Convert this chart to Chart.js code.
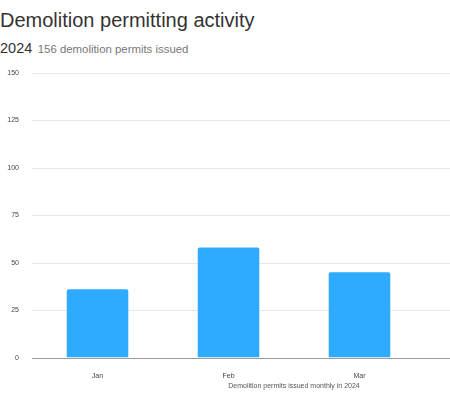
<!DOCTYPE html>
<html>
<head>
<meta charset="utf-8">
<script src="https://cdn.jsdelivr.net/npm/chart.js@4.4.1/dist/chart.umd.min.js"></script>
<style>
  html, body { margin: 0; padding: 0; background: #fff; }
  #wrap { position: relative; width: 450px; height: 400px; overflow: hidden; font-family: "Liberation Sans", Arial, sans-serif; }
  #title { position: absolute; left: 0; top: 10px; font-size: 20px; line-height: 20px; color: #333; white-space: nowrap; }
  #sub { position: absolute; left: 0; top: 40px; line-height: 16px; white-space: nowrap; }
  #sub .year { font-size: 14.5px; color: #333; }
  #sub .note { font-size: 11.4px; color: #777; margin-left: 1px; }
  canvas { position: absolute; left: 0; top: 0; }
</style>
</head>
<body>
<div id="wrap">
  <div id="title">Demolition permitting activity</div>
  <div id="sub"><span class="year">2024</span> <span class="note">156 demolition permits issued</span></div>
  <canvas id="myChart" width="450" height="400"></canvas>
</div>
<script>
const months = ["Jan", "Feb", "Mar"];
const permits = [36, 58, 45];
const yTicks = [0, 25, 50, 75, 100, 125, 150];
const xCaption = "Demolition permits issued monthly in 2024";

// horizontal lines run right out to the edge of the canvas, like the original
const gridToEdge = {
  id: "gridToEdge",
  beforeDatasetsDraw(chart) {
    const { ctx, chartArea, scales } = chart;
    ctx.save();
    scales.y.ticks.forEach((t, i) => {
      const y = Math.round(scales.y.getPixelForTick(i)) + 0.5;
      ctx.strokeStyle = t.value === 0 ? "#9a9a9a" : "#e8e8e8";
      ctx.lineWidth = 1;
      ctx.beginPath();
      ctx.moveTo(chartArea.left, y);
      ctx.lineTo(chart.width, y);
      ctx.stroke();
    });
    ctx.restore();
  },
  // caption under the axis, sits between Feb and Mar in the original
  afterDraw(chart) {
    const { ctx, chartArea, scales } = chart;
    ctx.save();
    ctx.font = "7px 'Liberation Sans', Arial, sans-serif";
    ctx.fillStyle = "#555";
    ctx.textAlign = "center";
    ctx.textBaseline = "middle";
    ctx.fillText(xCaption, scales.x.getPixelForValue(1.5), chartArea.bottom + 28.5);
    ctx.restore();
  }
};

const ctx = document.getElementById("myChart");
new Chart(ctx, {
  type: "bar",
  data: {
    labels: months,
    datasets: [
      {
        label: "Permits",
        data: permits,
        backgroundColor: "#2eaaff",
        borderRadius: 2,
        borderSkipped: "bottom",
        barPercentage: 0.47,
        categoryPercentage: 1,
      },
    ],
  },
  options: {
    responsive: false,
    animation: false,
    devicePixelRatio: 1,
    layout: { padding: { top: 73, left: 7, right: 25, bottom: 6 } },
    plugins: {
      legend: { display: false },
      tooltip: { enabled: false },
    },
    scales: {
      x: {
        grid: { display: false, drawTicks: false },
        border: { display: false },
        ticks: {
          padding: 14,
          color: "#444",
          font: { family: "'Liberation Sans', Arial, sans-serif", size: 7 },
        },
      },
      y: {
        min: 0,
        max: 150,
        afterBuildTicks: (axis) => {
          axis.ticks = yTicks.map((v) => ({ value: v }));
        },
        afterFit: (axis) => {
          axis.width = 25;
        },
        grid: { display: false, drawTicks: false },
        border: { display: false },
        ticks: {
          padding: 13,
          color: "#444",
          font: { family: "'Liberation Sans', Arial, sans-serif", size: 7 },
        },
      },
    },
  },
  plugins: [gridToEdge],
});
</script>
</body>
</html>
